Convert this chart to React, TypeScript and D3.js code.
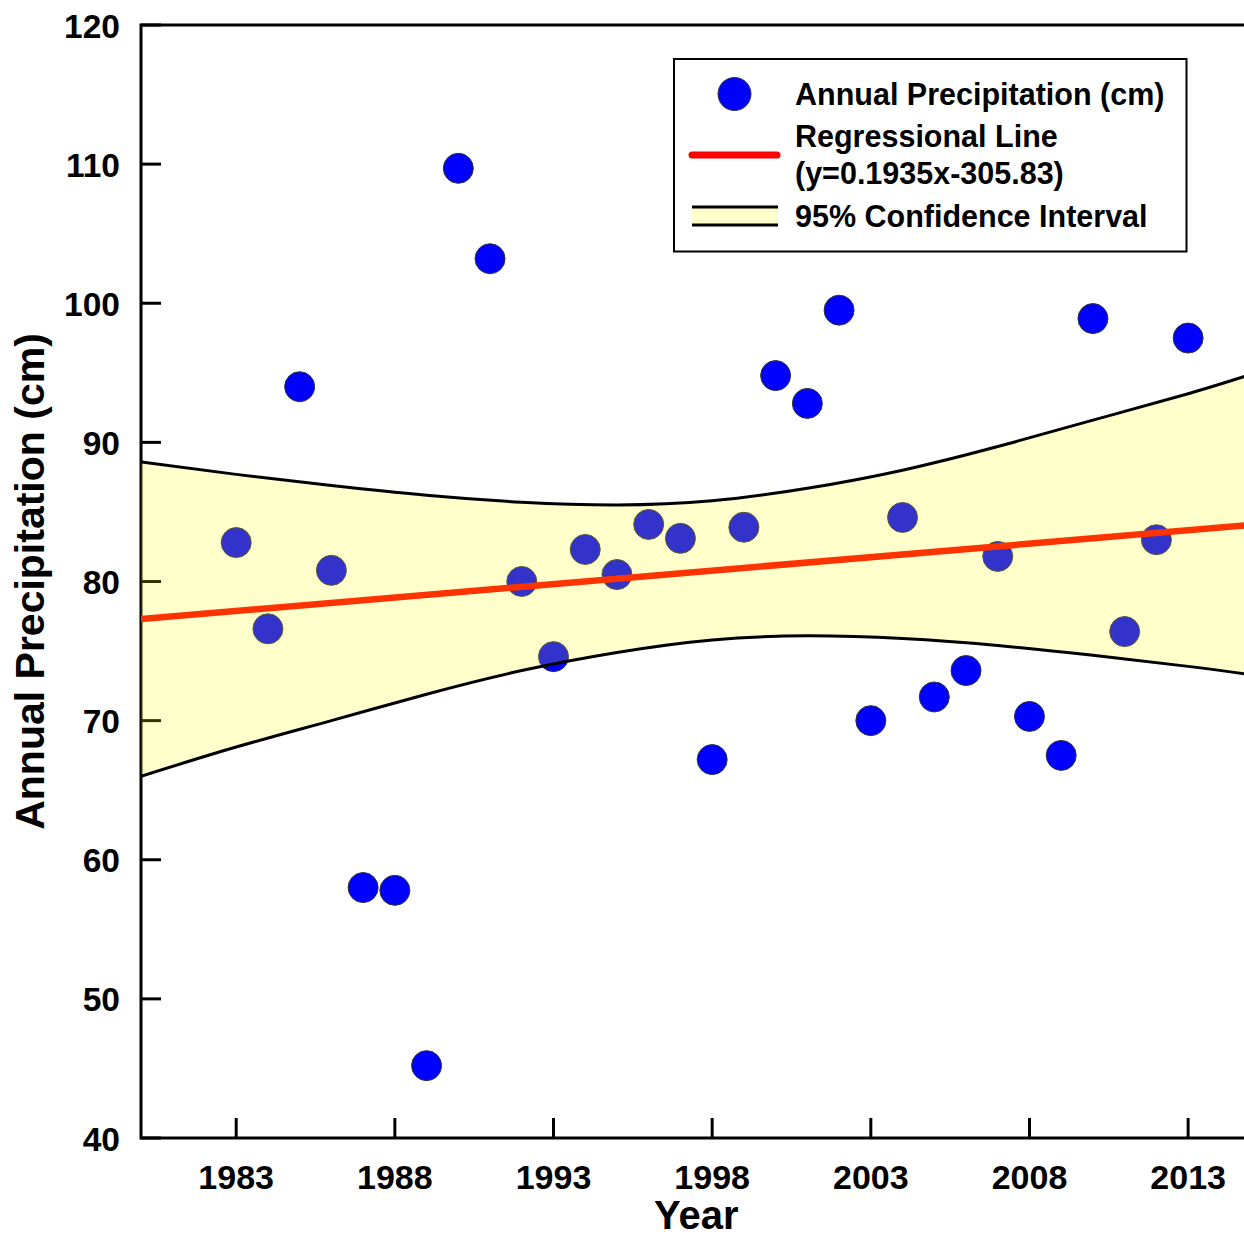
import * as d3 from 'd3';

// annual precipitation (cm), one value per year
const years = [
  1983, 1984, 1985, 1986, 1987, 1988, 1989, 1990, 1991, 1992, 1993, 1994, 1995, 1996, 1997, 1998,
  1999, 2000, 2001, 2002, 2003, 2004, 2005, 2006, 2007, 2008, 2009, 2010, 2011, 2012, 2013
];
const precipitation = [
  82.8, 76.6, 94.0, 80.8, 58.0, 57.8, 45.2, 109.7, 103.2, 80.0, 74.6, 82.3, 80.5, 84.1, 83.1, 67.2,
  83.9, 94.8, 92.8, 99.5, 70.0, 84.6, 71.7, 73.6, 81.8, 70.3, 67.5, 98.9, 76.4, 83.0, 97.5
];

// 95% confidence band
const bandYears = [1980, 1983, 1986, 1989, 1992, 1995, 1998, 2001, 2004, 2007, 2010, 2013, 2015];
const bandUpper = [88.6, 87.7, 86.9, 86.2, 85.7, 85.5, 85.8, 86.7, 88.0, 89.7, 91.6, 93.5, 94.9];
const bandLower = [66.0, 68.1, 70.0, 71.9, 73.6, 74.9, 75.8, 76.1, 75.9, 75.4, 74.7, 73.9, 73.3];

// regression y = 0.1935x - 305.83
const slope = 0.1935;
const intercept = -305.83;

const xTicks = [1983, 1988, 1993, 1998, 2003, 2008, 2013];
const yTicks = [40, 50, 60, 70, 80, 90, 100, 110, 120];

const WIDTH = 1244;
const HEIGHT = 1238;
const FONT = '"Liberation Sans", Arial, Helvetica, sans-serif';

export default function App() {
  const x = d3.scaleLinear().domain([1980, 2015]).range([141, 1251.6]);
  const y = d3.scaleLinear().domain([40, 120]).range([1138, 25]);

  const [x0, x1] = x.range();
  const [yb, yt] = y.range();

  const bandData = bandYears.map((yr, i) => ({ yr, hi: bandUpper[i], lo: bandLower[i] }));

  const areaGen = d3
    .area<{ yr: number; hi: number; lo: number }>()
    .x((d) => x(d.yr))
    .y0((d) => y(d.lo))
    .y1((d) => y(d.hi))
    .curve(d3.curveNatural);

  const upperLine = d3
    .line<{ yr: number; hi: number; lo: number }>()
    .x((d) => x(d.yr))
    .y((d) => y(d.hi))
    .curve(d3.curveNatural);

  const lowerLine = d3
    .line<{ yr: number; hi: number; lo: number }>()
    .x((d) => x(d.yr))
    .y((d) => y(d.lo))
    .curve(d3.curveNatural);

  const [d0, d1] = x.domain();
  const regLine = d3.line<number>().x((d) => x(d)).y((d) => y(slope * d + intercept))([d0, d1]);

  return (
    <svg
      width={WIDTH}
      height={HEIGHT}
      style={{ position: 'absolute', left: 0, top: 0, background: '#fff' }}
      fontFamily={FONT}
      fontWeight="bold"
    >
      <defs>
        <clipPath id="plot-clip">
          <rect x={x0} y={yt} width={x1 - x0} height={yb - yt} />
        </clipPath>
      </defs>

      {/* frame */}
      <rect x={x0} y={yt} width={x1 - x0} height={yb - yt} fill="none" stroke="#000" strokeWidth={3} />

      {/* ticks, inward */}
      {yTicks.map((t) => (
        <line key={'yt' + t} x1={x0} x2={x0 + 20} y1={y(t)} y2={y(t)} stroke="#000" strokeWidth={3} />
      ))}
      {xTicks.map((t) => (
        <line key={'xt' + t} x1={x(t)} x2={x(t)} y1={yb} y2={yb - 20} stroke="#000" strokeWidth={3} />
      ))}

      {/* tick labels */}
      {yTicks.map((t) => (
        <text key={'yl' + t} x={120} y={y(t) + 12.5} fontSize={33.5} textAnchor="end">
          {t}
        </text>
      ))}
      {xTicks.map((t) => (
        <text key={'xl' + t} x={x(t)} y={1189} fontSize={34} textAnchor="middle">
          {t}
        </text>
      ))}

      {/* axis titles */}
      <text x={(x0 + x1) / 2} y={1229} fontSize={40} textAnchor="middle">
        Year
      </text>
      <text
        transform={`translate(44, ${(yt + yb) / 2}) rotate(-90)`}
        fontSize={41}
        textAnchor="middle"
      >
        Annual Precipitation (cm)
      </text>

      <g clipPath="url(#plot-clip)">
        {/* points */}
        {years.map((yr, i) => (
          <circle
            key={yr}
            cx={x(yr)}
            cy={y(precipitation[i])}
            r={15}
            fill="#0000ff"
            stroke="#333"
            strokeWidth={1}
          />
        ))}

        {/* regression line */}
        <path d={regLine ?? ''} fill="none" stroke="#ff0000" strokeWidth={6.5} />

        {/* confidence band, drawn over the marks */}
        <path d={areaGen(bandData) ?? ''} fill="rgba(255,255,0,0.2)" stroke="none" />
        <path d={upperLine(bandData) ?? ''} fill="none" stroke="#000" strokeWidth={3} />
        <path d={lowerLine(bandData) ?? ''} fill="none" stroke="#000" strokeWidth={3} />
      </g>

      {/* legend */}
      <g>
        <rect x={674} y={59} width={512.5} height={192.5} fill="#fff" stroke="#000" strokeWidth={2} />
        <circle cx={734.5} cy={94} r={16.5} fill="#0000ff" stroke="#333" strokeWidth={1} />
        <text x={795} y={104.5} fontSize={30.5}>
          Annual Precipitation (cm)
        </text>
        <line x1={692} x2={777} y1={155} y2={155} stroke="#ff0000" strokeWidth={7} strokeLinecap="round" />
        <text x={795} y={147} fontSize={30.5}>
          Regressional Line
        </text>
        <text x={795} y={183.5} fontSize={30.5}>
          (y=0.1935x-305.83)
        </text>
        <rect x={692} y={207} width={86} height={18} fill="#ffffcc" />
        <line x1={692} x2={778} y1={207} y2={207} stroke="#000" strokeWidth={3} />
        <line x1={692} x2={778} y1={225} y2={225} stroke="#000" strokeWidth={3} />
        <text x={795} y={226.5} fontSize={30.5}>
          95% Confidence Interval
        </text>
      </g>
    </svg>
  );
}
